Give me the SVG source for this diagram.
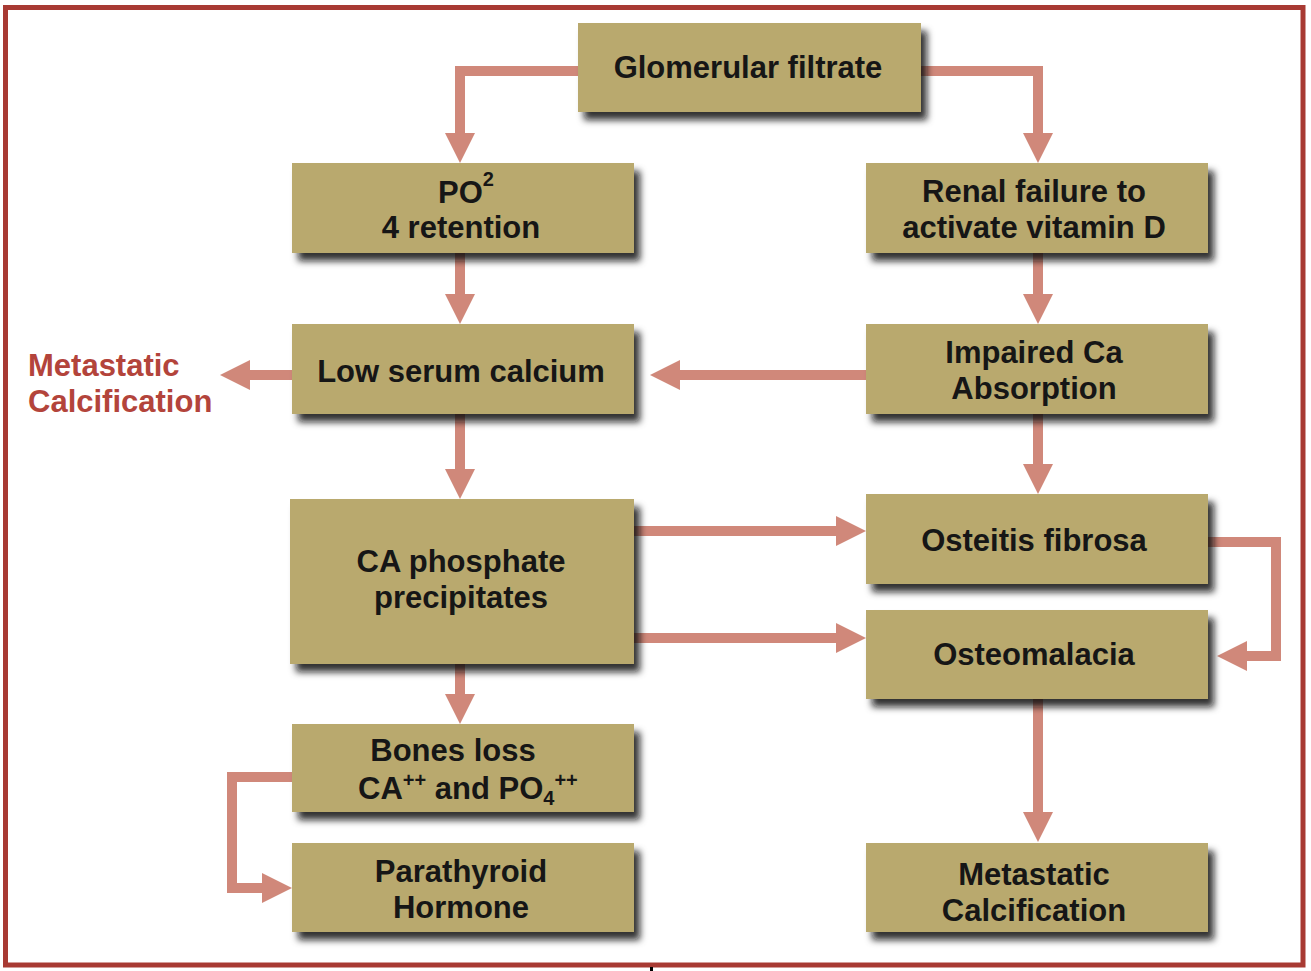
<svg xmlns="http://www.w3.org/2000/svg" width="1311" height="971" viewBox="0 0 1311 971">
<style>
.box{fill:#b9a96e;filter:url(#sh);}
.t{font-family:"Liberation Sans",Arial,sans-serif;font-weight:bold;font-size:31px;fill:#161616;text-anchor:middle;}
.red{font-family:"Liberation Sans",Arial,sans-serif;font-weight:bold;font-size:31px;fill:#b3443b;}
.c{fill:none;stroke:#d0887a;stroke-width:10;stroke-linejoin:miter;marker-end:url(#ah);}
.sm{font-size:20px;}
</style>
<defs>
<filter id="sh" x="-10%" y="-20%" width="125%" height="150%">
<feDropShadow dx="6" dy="8" stdDeviation="3.5" flood-color="#111" flood-opacity="0.85"/>
</filter>
<marker id="ah" viewBox="0 0 10 10" refX="0" refY="5" markerWidth="3" markerHeight="3.2" orient="auto" markerUnits="strokeWidth">
<path d="M0,0 L10,5 L0,10 z" fill="#d0887a"/>
</marker>
</defs>
<rect width="1311" height="971" fill="#ffffff"/>
<rect x="5.5" y="7.5" width="1297.5" height="957.5" fill="none" stroke="#a83a33" stroke-width="5"/>
<rect x="650" y="967" width="3" height="4" fill="#000"/>

<g id="connectors">
<path class="c" d="M578,71 H460 V133"/>
<path class="c" d="M921,71 H1038 V133"/>
<path class="c" d="M460,253 V294"/>
<path class="c" d="M1038,253 V294"/>
<path class="c" d="M866,375 H680"/>
<path class="c" d="M292,375 H250"/>
<path class="c" d="M460,414 V469"/>
<path class="c" d="M1038,414 V464"/>
<path class="c" d="M634,531 H836"/>
<path class="c" d="M634,638 H836"/>
<path class="c" d="M1208,542 H1276 V656 H1247"/>
<path class="c" d="M460,664 V694"/>
<path class="c" d="M292,777 H232 V888 H262"/>
<path class="c" d="M1038,698 V812"/>
</g>

<g id="glomerular">
<rect class="box" x="578" y="23" width="343" height="89"/>
<text class="t" x="748" y="78">Glomerular filtrate</text>
</g>
<g id="po4">
<rect class="box" x="292" y="163" width="342" height="90"/>
<text class="t" x="466" y="203">PO<tspan class="sm" dy="-17">2</tspan></text>
<text class="t" x="461" y="238">4 retention</text>
</g>
<g id="renal">
<rect class="box" x="866" y="163" width="342" height="90"/>
<text class="t" x="1034" y="202">Renal failure to</text>
<text class="t" x="1034" y="238">activate vitamin D</text>
</g>
<g id="lowserum">
<rect class="box" x="292" y="324" width="342" height="90"/>
<text class="t" x="461" y="382">Low serum calcium</text>
</g>
<g id="impaired">
<rect class="box" x="866" y="324" width="342" height="90"/>
<text class="t" x="1034" y="363">Impaired Ca</text>
<text class="t" x="1034" y="399">Absorption</text>
</g>
<g id="metastatic-left">
<text class="red" x="28" y="376">Metastatic</text>
<text class="red" x="28" y="412">Calcification</text>
</g>
<g id="caphosphate">
<rect class="box" x="290" y="499" width="344" height="165"/>
<text class="t" x="461" y="572">CA phosphate</text>
<text class="t" x="461" y="608">precipitates</text>
</g>
<g id="osteitis">
<rect class="box" x="866" y="494" width="342" height="90"/>
<text class="t" x="1034" y="551">Osteitis fibrosa</text>
</g>
<g id="osteomalacia">
<rect class="box" x="866" y="610" width="342" height="89"/>
<text class="t" x="1034" y="665">Osteomalacia</text>
</g>
<g id="bonesloss">
<rect class="box" x="292" y="724" width="342" height="88"/>
<text class="t" x="453" y="761">Bones loss</text>
<text class="t" x="358" y="799" style="text-anchor:start">CA<tspan class="sm" dy="-12">++</tspan><tspan dy="12"> and PO</tspan><tspan class="sm" dy="6">4</tspan><tspan class="sm" dy="-18">++</tspan></text>
</g>
<g id="parathyroid">
<rect class="box" x="292" y="843" width="342" height="89"/>
<text class="t" x="461" y="882">Parathyroid</text>
<text class="t" x="461" y="918">Hormone</text>
</g>
<g id="metastatic-right">
<rect class="box" x="866" y="843" width="342" height="89"/>
<text class="t" x="1034" y="885">Metastatic</text>
<text class="t" x="1034" y="921">Calcification</text>
</g>
</svg>
